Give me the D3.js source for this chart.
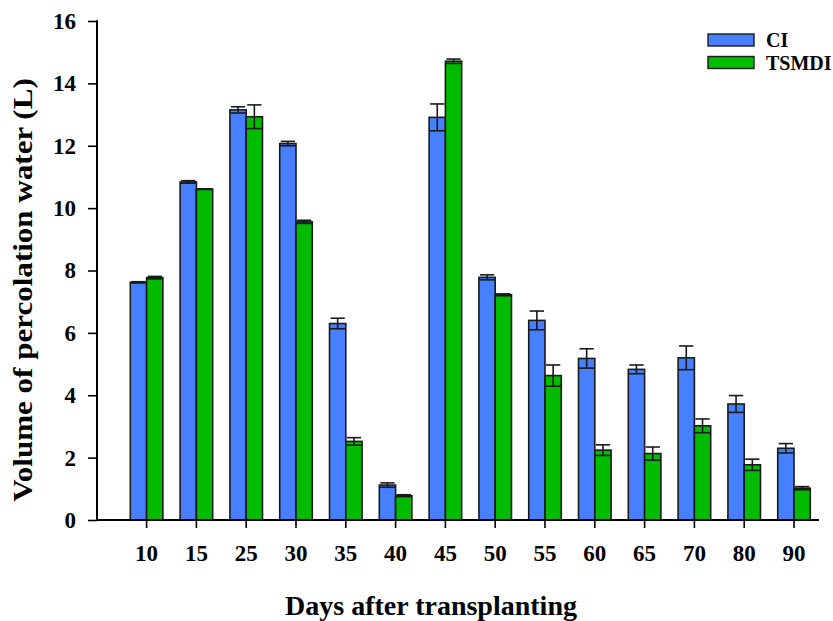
<!DOCTYPE html>
<html>
<head>
<meta charset="utf-8">
<script src="https://cdn.jsdelivr.net/npm/d3@7"></script>
<style>
  html, body { margin: 0; padding: 0; background: #fff; }
  svg { display: block; font-family: "Liberation Serif", "Times New Roman", serif; font-weight: bold; }
</style>
</head>
<body>
<svg id="chart" width="833" height="621"></svg>
<script>
const days = ["10","15","25","30","35","40","45","50","55","60","65","70","80","90"];
const ciValues = [7.62, 10.84, 13.15, 12.07, 6.30, 1.12, 12.91, 7.78, 6.40, 5.18, 4.83, 5.20, 3.72, 2.30];
const ciErrors = [0.02, 0.04, 0.10, 0.07, 0.17, 0.07, 0.43, 0.08, 0.30, 0.31, 0.14, 0.38, 0.27, 0.15];
const tsValues = [7.77, 10.61, 12.93, 9.56, 2.52, 0.78, 14.71, 7.22, 4.63, 2.24, 2.13, 3.02, 1.77, 1.02];
const tsErrors = [0.04, 0.01, 0.38, 0.05, 0.12, 0.03, 0.07, 0.03, 0.34, 0.17, 0.21, 0.22, 0.18, 0.05];
const yTicks = [0, 2, 4, 6, 8, 10, 12, 14, 16];
const seriesNames = ["CI", "TSMDI"];
const seriesColors = ["#4680ff", "#00bb00"];

(function () {
const svg = d3.select("#chart");
const mLeft = 97, mTop = 21, mBottom = 520, mRight = 819;

const x = d3.scaleBand().domain(days).range([121.7, 818.9]).padding(0);
const y = d3.scaleLinear().domain([0, 16]).range([mBottom, mTop]);
const barW = x.bandwidth() * 0.327;

const series = [
  { name: seriesNames[0], color: seriesColors[0], values: ciValues, errors: ciErrors, offset: -1 },
  { name: seriesNames[1], color: seriesColors[1], values: tsValues, errors: tsErrors, offset: 0 }
];

// bars
series.forEach(s => {
  const g = svg.append("g");
  days.forEach((d, i) => {
    const cx = x(d) + x.bandwidth() / 2;
    const bx = cx + s.offset * barW;
    g.append("rect")
      .attr("x", bx).attr("y", y(s.values[i]))
      .attr("width", barW).attr("height", y(0) - y(s.values[i]))
      .attr("fill", s.color).attr("stroke", "#1a1a1a").attr("stroke-width", 1.6);
    const mid = bx + barW / 2;
    const hi = y(s.values[i] + s.errors[i]);
    const lo = y(s.values[i] - s.errors[i]);
    g.append("line").attr("x1", mid).attr("x2", mid).attr("y1", hi).attr("y2", lo)
      .attr("stroke", "#1a1a1a").attr("stroke-width", 1.6);
    g.append("line").attr("x1", bx + 1).attr("x2", bx + barW - 1).attr("y1", hi).attr("y2", hi)
      .attr("stroke", "#1a1a1a").attr("stroke-width", 1.6);
    g.append("line").attr("x1", bx).attr("x2", bx + barW).attr("y1", lo).attr("y2", lo)
      .attr("stroke", "#1a1a1a").attr("stroke-width", 1.6);
  });
});

// y axis
const yAxis = svg.append("g").attr("transform", `translate(${mLeft},0)`)
  .call(d3.axisLeft(y).tickValues(yTicks).tickSize(9).tickSizeOuter(0).tickPadding(12).tickFormat(d3.format("d")));
yAxis.select(".domain").remove();
yAxis.selectAll(".tick line").attr("stroke", "#000").attr("stroke-width", 1.6);
yAxis.selectAll(".tick text").attr("font-size", 23).attr("font-weight", "bold")
  .attr("font-family", "Liberation Serif").attr("fill", "#000");
svg.append("line").attr("x1", mLeft).attr("x2", mLeft).attr("y1", mTop - 0.8).attr("y2", mBottom)
  .attr("stroke", "#000").attr("stroke-width", 2);

// x axis
const xAxis = svg.append("g").attr("transform", `translate(0,${mBottom})`)
  .call(d3.axisBottom(x).tickSize(8).tickSizeOuter(0).tickPadding(17));
xAxis.select(".domain").remove();
xAxis.selectAll(".tick line").attr("stroke", "#000").attr("stroke-width", 1.6);
xAxis.selectAll(".tick text").attr("font-size", 23).attr("font-weight", "bold")
  .attr("font-family", "Liberation Serif").attr("fill", "#000");
svg.append("line").attr("x1", mLeft - 1).attr("x2", mRight).attr("y1", mBottom).attr("y2", mBottom)
  .attr("stroke", "#000").attr("stroke-width", 2);

// axis titles
svg.append("text").attr("transform", `translate(32,290) rotate(-90) scale(1.15,1)`)
  .attr("text-anchor", "middle").attr("font-size", 27).text("Volume of percolation water (L)");
svg.append("text").attr("x", 431).attr("y", 615)
  .attr("text-anchor", "middle").attr("font-size", 28).text("Days after transplanting");

// legend
series.forEach((s, i) => {
  const ly = 34 + i * 22.5;
  svg.append("rect").attr("x", 708).attr("y", ly).attr("width", 46).attr("height", 12)
    .attr("fill", s.color).attr("stroke", "#1a1a1a").attr("stroke-width", 1.4);
  svg.append("text").attr("x", 766).attr("y", ly + 13).attr("font-size", 20).text(s.name);
});
})();
</script>
</body>
</html>
